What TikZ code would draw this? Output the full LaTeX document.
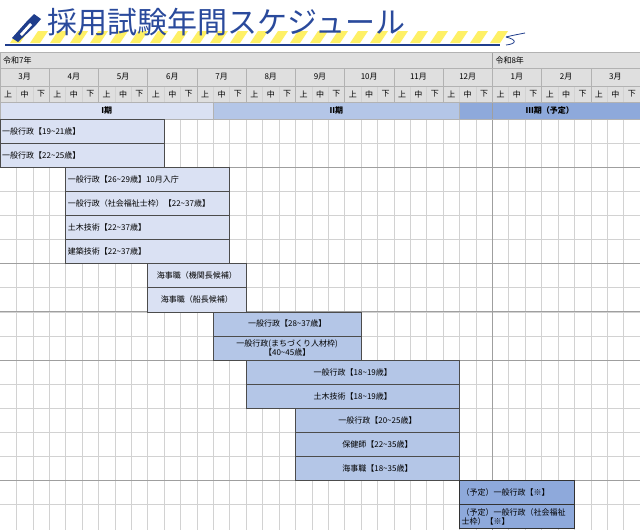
\documentclass[tikz,border=0pt]{standalone}
\usepackage{fontspec}
\setmainfont{Noto Sans CJK JP}
\newcommand\tl{\string~}
\begin{document}
\begin{tikzpicture}[x=1pt,y=-1pt,
  grid/.style={draw=gray!35,line width=0.5pt},
  sep/.style={draw=gray!75,line width=0.8pt},
  hdr/.style={fill=gray!25},
  t/.style={font=\fontsize{8}{9}\selectfont,inner sep=1pt},
  barA/.style={fill=pA,draw=black!70,line width=0.6pt},
  barB/.style={fill=pB,draw=black!70,line width=0.6pt},
  barC/.style={fill=pC,draw=black!80,line width=0.6pt}]
\definecolor{pA}{HTML}{DAE1F3}
\definecolor{pB}{HTML}{B4C6E7}
\definecolor{pC}{HTML}{8EA9DB}
\definecolor{navy}{HTML}{1F3D8C}
\definecolor{ttl}{HTML}{2A4A9C}
\useasboundingbox (0,0) rectangle (640,530);
\fill[white] (0,0) rectangle (640,530);
\def\w{16.4103}
\def\rh{24.1}
% title stripes
\foreach \i in {0,...,24} {
  \fill[yellow!90!orange!60] ({18+\i*20},31) -- ({28+\i*20},31) -- ({20+\i*20},43) -- ({10+\i*20},43) -- cycle;
}
\draw[navy,line width=1.2pt] (5,45) -- (500,45);
\draw[navy,line width=0.8pt] (506,37) .. controls (514,35) and (520,34) .. (525,33);
\draw[navy,line width=0.8pt] (506,37) .. controls (518,40) and (516,44) .. (506,45);
% pen
\fill[navy] (12,38) -- (28,20) -- (34,14) -- (41,19) -- (35,26) -- (18,42) -- cycle;
\fill[white] (20,34) -- (30,23) -- (32,25) -- (22,36) -- cycle;
\node[anchor=west,text=ttl,font=\fontsize{30}{32}\selectfont,inner sep=0] (title) at (47,22) {採用試験年間スケジュール};
% header rows
\fill[hdr] (0,52) rectangle (640,102);
\fill[pA] (0,102) rectangle ({13*\w},119);
\fill[pB] ({13*\w},102) rectangle ({28*\w},119);
\fill[pC] ({28*\w},102) rectangle (640,119);
% body grid
\foreach \c in {1,...,38} \draw[grid] ({\c*\w},86) -- ({\c*\w},102) ({\c*\w},119) -- ({\c*\w},530);
\foreach \r in {1,...,16} \draw[grid] (0,{119+\r*\rh}) -- (640,{119+\r*\rh});
\foreach \r in {2,6,8,10,15} \draw[sep] (0,{119+\r*\rh}) -- (640,{119+\r*\rh});
\draw[sep] ({30*\w},52) -- ({30*\w},530);
\foreach \m in {1,...,12} \draw[draw=gray!60] ({3*\m*\w},68) -- ({3*\m*\w},102);
\draw[draw=gray!60] (0,52) rectangle (640,119) (0,68) -- (640,68) (0,86) -- (640,86) (0,102) -- (640,102);
\draw[draw=gray!60] ({13*\w},102) -- ({13*\w},119) ({28*\w},102) -- ({28*\w},119);
% header texts
\node[t,anchor=west] (y7) at (2,60) {令和7年};
\node[t,anchor=west] (y8) at ({30*\w+2},60) {令和8年};
\foreach \m [count=\k from 0] in {3月,4月,5月,6月,7月,8月,9月,10月,11月,12月,1月,2月,3月} {
  \node[t] (m\k) at ({(3*\k+1.5)*\w},77) {\m};
  \node[t] (a\k) at ({(3*\k+0.5)*\w},94) {上};
  \node[t] (b\k) at ({(3*\k+1.5)*\w},94) {中};
  \node[t] (c\k) at ({(3*\k+2.5)*\w},94) {下};
}
\node[t] (p1) at ({6.5*\w},110.5) {\bfseries I期};
\node[t] (p2) at ({20.5*\w},110.5) {\bfseries II期};
\node[t] (p3) at ({33.5*\w},110.5) {\bfseries III期（予定）};
\newcommand\gbar[7]{%
  \draw[#1] ({#2*\w},{119+(#4-1)*\rh}) rectangle ({#3*\w},{119+#4*\rh});
  \ifx l#5
    \node[t,anchor=west,align=left] (#7) at ({#2*\w+1},{119+(#4-0.5)*\rh}) {#6};
  \else
    \node[t,align=center] (#7) at ({(#2+#3)/2*\w},{119+(#4-0.5)*\rh}) {#6};
  \fi}
\gbar{barA}{0}{10}{1}{l}{一般行政【19\tl 21歳】}{r1}
\gbar{barA}{0}{10}{2}{l}{一般行政【22\tl 25歳】}{r2}
\gbar{barA}{4}{14}{3}{l}{一般行政【26\tl 29歳】10月入庁}{r3}
\gbar{barA}{4}{14}{4}{l}{一般行政（社会福祉士枠）【22\tl 37歳】}{r4}
\gbar{barA}{4}{14}{5}{l}{土木技術【22\tl 37歳】}{r5}
\gbar{barA}{4}{14}{6}{l}{建築技術【22\tl 37歳】}{r6}
\gbar{barA}{9}{15}{7}{c}{海事職（機関長候補）}{r7}
\gbar{barA}{9}{15}{8}{c}{海事職（船長候補）}{r8}
\gbar{barB}{13}{22}{9}{c}{一般行政【28\tl 37歳】}{r9}
\gbar{barB}{13}{22}{10}{c}{一般行政(まちづくり人材枠)\\【40\tl 45歳】}{r10}
\gbar{barB}{15}{28}{11}{c}{一般行政【18\tl 19歳】}{r11}
\gbar{barB}{15}{28}{12}{c}{土木技術【18\tl 19歳】}{r12}
\gbar{barB}{18}{28}{13}{c}{一般行政【20\tl 25歳】}{r13}
\gbar{barB}{18}{28}{14}{c}{保健師【22\tl 35歳】}{r14}
\gbar{barB}{18}{28}{15}{c}{海事職【18\tl 35歳】}{r15}
\gbar{barC}{28}{35}{16}{l}{（予定）一般行政【※】}{r16}
\gbar{barC}{28}{35}{17}{l}{（予定）一般行政（社会福祉\\士枠）【※】}{r17}
\end{tikzpicture}
\end{document}
